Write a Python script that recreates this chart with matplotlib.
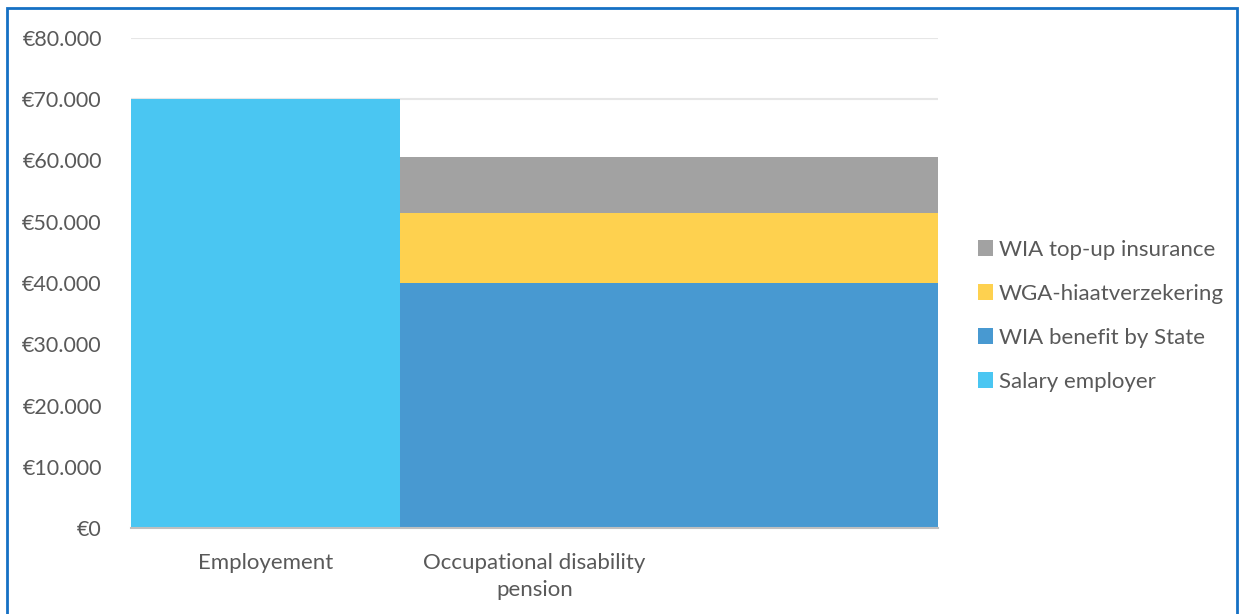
import matplotlib
matplotlib.use("Agg")
import matplotlib.pyplot as plt
from matplotlib.patches import Rectangle
from matplotlib.ticker import FuncFormatter, MultipleLocator

plt.rcParams["font.family"] = ["Lato", "DejaVu Sans"]

categories = ["Employement", "Occupational disability\npension", ""]
salary_employer = [70000, 0, 0]
wia_benefit_state = [0, 40000, 40000]
wga_hiaat = [0, 11500, 11500]
wia_topup = [0, 9000, 9000]

series = [
    ("Salary employer", salary_employer, "#4AC6F2"),
    ("WIA benefit by State", wia_benefit_state, "#4899D1"),
    ("WGA-hiaatverzekering", wga_hiaat, "#FED14F"),
    ("WIA top-up insurance", wia_topup, "#A2A2A2"),
]

text_color = "#595959"
fig = plt.figure(figsize=(12.42, 6.14), dpi=100)
ax = fig.add_axes([131 / 1242, 86 / 614, 807 / 1242, 490 / 614])

x = list(range(len(categories)))
bottom = [0] * len(categories)
handles = []
for name, vals, color in series:
    bars = ax.bar(x, vals, width=1.0, bottom=bottom, color=color,
                  linewidth=0, zorder=2, label=name)
    handles.append(bars)
    bottom = [b + v for b, v in zip(bottom, vals)]

ax.set_xlim(-0.5, len(categories) - 0.5)
ax.set_ylim(0, 80000)
ax.yaxis.set_major_locator(MultipleLocator(10000))
ax.yaxis.set_major_formatter(FuncFormatter(
    lambda v, p: "€0" if v == 0 else "€{:,.0f}".format(v).replace(",", ".")))
ax.grid(axis="y", color="#E6E6E6", linewidth=1.5, zorder=0)
ax.set_axisbelow(True)
ax.set_xticks(x)
ax.set_xticklabels(categories, fontsize=16, color=text_color, linespacing=1.45)
ax.tick_params(axis="y", length=0, pad=21, labelsize=15.5, labelcolor=text_color)
ax.tick_params(axis="x", length=0, pad=18)
for side in ("top", "right", "left"):
    ax.spines[side].set_visible(False)
ax.spines["bottom"].set_color("#BFBFBF")
ax.spines["bottom"].set_linewidth(1.5)
ax.spines["bottom"].set_zorder(3)

leg = fig.legend(handles[::-1], [s[0] for s in series][::-1],
                 loc="upper left", bbox_to_anchor=(969 / 1242, 1 - 231 / 614),
                 frameon=False, fontsize=16, labelcolor=text_color,
                 handlelength=0.7, handleheight=0.7, handletextpad=0.25,
                 labelspacing=1.08, borderaxespad=0)

fig.patches.append(Rectangle((7 / 1242, -0.05), 1230 / 1242, 1.05 - 8 / 614,
                             transform=fig.transFigure, fill=False,
                             edgecolor="#1570C4", linewidth=2))

fig.savefig("out.png", dpi=100)
